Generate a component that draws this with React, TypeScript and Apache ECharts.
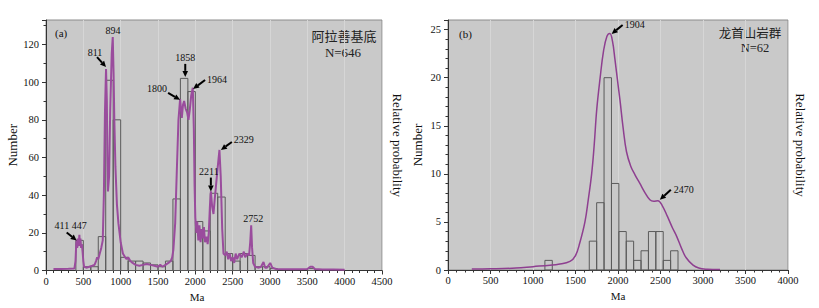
import React, { useEffect, useRef } from "react";
import * as echarts from "echarts";

// ---------- Data: panel (a) 阿拉善基底 ----------
const binWidthA = 100;
const binStartA = [400, 500, 600, 700, 800, 900, 1000, 1100, 1200, 1300, 1400, 1500, 1600, 1700, 1800, 1900, 2000, 2100, 2200, 2300, 2400, 2500, 2600, 2700, 2800, 2900, 3000, 3500];
const binCountA = [16, 2, 2, 18, 101, 80, 7, 5, 5, 4, 3, 2, 5, 38, 102, 95, 26, 21, 41, 39, 9, 5, 9, 8, 2, 2, 1, 1];

const curveA: number[][] = [
  [100, 0.8], [200, 0.8], [300, 0.9], [380, 1], [395, 5], [405, 14], [411, 16], [418, 12], [425, 17], [432, 13], [440, 15], [447, 19], [455, 13], [462, 17], [470, 12], [480, 14], [490, 10], [500, 5], [510, 2], [540, 1.5], [580, 2], [620, 2.5], [650, 3], [670, 5], [685, 7], [700, 6], [720, 9], [740, 12], [760, 16], [775, 40], [790, 85], [804, 107], [815, 90], [822, 60], [830, 42], [845, 50], [860, 85], [880, 115], [894, 124], [905, 105], [915, 80], [930, 55], [950, 35], [970, 25], [1000, 15], [1030, 9], [1060, 7], [1080, 6], [1100, 7], [1130, 5], [1160, 4], [1200, 3], [1250, 2.5], [1300, 3], [1350, 3.5], [1400, 3], [1450, 2.5], [1500, 2], [1530, 3], [1560, 2], [1600, 3], [1640, 4], [1670, 5], [1690, 7], [1706, 11], [1730, 25], [1752, 53], [1774, 80], [1796, 91], [1810, 85], [1819, 81], [1835, 88], [1850, 90], [1870, 86], [1890, 84], [1908, 80], [1925, 85], [1945, 93], [1966, 97], [1980, 75], [1990, 45], [2000, 28], [2015, 20], [2025, 26], [2040, 16], [2055, 24], [2070, 15], [2085, 22], [2100, 17], [2115, 23], [2130, 15], [2150, 18], [2165, 14], [2180, 20], [2195, 34], [2208, 42], [2225, 34], [2243, 30], [2260, 38], [2279, 46], [2300, 55], [2323, 64], [2340, 50], [2360, 22], [2377, 9], [2400, 8], [2420, 10], [2440, 6], [2460, 9], [2480, 5], [2500, 7], [2520, 4], [2540, 9], [2560, 6], [2590, 9], [2620, 7], [2650, 10], [2668, 7], [2700, 9], [2720, 8], [2735, 15], [2748, 24], [2760, 12], [2775, 4], [2800, 2], [2850, 1.5], [2880, 2], [2913, 4.5], [2935, 1.5], [2960, 1.5], [3003, 4], [3030, 1.5], [3080, 0.8], [3200, 0.6], [3350, 0.6], [3500, 0.8], [3540, 2], [3570, 2], [3600, 0.8], [3700, 0.5], [3850, 0.5], [4000, 0.4],
];

const annoLabelsA = ["411 447", "811", "894", "1800", "1858", "1964", "2211", "2329", "2752"];
const annoMaA = [411, 804, 898, 1796, 1865, 1970, 2208, 2342, 2775];
const annoValA = [15.9, 108, 127.5, 90.6, 102.8, 96.4, 41.9, 64, 27.4];

// ---------- Data: panel (b) 龙首山岩群 ----------
const binWidthB = 87;
const binStartB = [1140, 1662, 1749, 1836, 1923, 2010, 2097, 2184, 2271, 2358, 2445, 2532, 2619];
const binCountB = [1, 3, 7, 20, 9, 4, 3, 1, 2, 4, 4, 1, 2];

const curveB: number[][] = [
  [280, 0.1], [500, 0.12], [800, 0.2], [1000, 0.35], [1200, 0.5], [1300, 0.6], [1435, 0.9], [1500, 1.5], [1550, 2.8], [1611, 5], [1650, 7.3], [1690, 10], [1720, 13], [1750, 16.7], [1790, 20], [1830, 22.8], [1870, 24.3], [1904, 24.6], [1935, 23.8], [1964, 21.9], [2000, 19.3], [2023, 17.7], [2060, 14.8], [2100, 12.3], [2150, 10.8], [2200, 9.9], [2257, 9], [2320, 8], [2375, 7.3], [2420, 7.15], [2470, 7.2], [2520, 6.7], [2580, 5.6], [2640, 4.4], [2690, 3.5], [2750, 2.2], [2800, 1.3], [2883, 0.5], [2950, 0.2], [3050, 0.08], [3200, 0.04],
];

const annoLabelsB = ["1904", "2470"];
const annoMaB = [1925, 2492];
const annoValB = [24.55, 7.3];

// ---------- Layout for annotations (pixel offsets from arrow tip) ----------
// [tailDx, tailDy, textDx, textDy, align]  (no arrow if tail is null)
const annoLayoutA: any[] = [
  [-10, -8, -6, -15, "center"],
  [-9, -10, -11, -15, "center"],
  [null, null, 0, 0, "center"],
  [-12, -7, -23, -11, "center"],
  [0, -13, 0, -19, "center"],
  [12, -9, 14, -9, "left"],
  [0, -14, -2, -20, "center"],
  [11, -8, 13, -10, "left"],
  [null, null, 0, 0, "center"],
];
const annoLayoutB: any[] = [
  [11, -9, 13, -9, "left"],
  [11, -10, 14, -10, "left"],
];

const SERIF = "'Liberation Serif', 'Times New Roman', 'DejaVu Serif', serif";
const CJK = "'Noto Sans CJK SC', 'Liberation Serif', serif";
const PURPLE = "#9a4c9d";

function histData(starts: number[], counts: number[], w: number) {
  return starts.map((s, i) => [s, s + w, counts[i]]);
}

function renderHist(params: any, api: any) {
  const p0 = api.coord([api.value(0), api.value(2)]);
  const p1 = api.coord([api.value(1), 0]);
  return {
    type: "rect",
    shape: { x: p0[0], y: p0[1], width: p1[0] - p0[0], height: p1[1] - p0[1] },
    style: { fill: "none", stroke: "#5a5a5a", lineWidth: 1 },
  };
}

function makeAnnoRenderer(labels: string[], layout: any[]) {
  return (params: any, api: any) => {
    const idx = api.value(2);
    const tip = api.coord([api.value(0), api.value(1)]);
    const lay = layout[idx];
    const children: any[] = [];
    if (lay[0] !== null) {
      const tx = tip[0] + lay[0];
      const ty = tip[1] + lay[1];
      const dx = tip[0] - tx;
      const dy = tip[1] - ty;
      const len = Math.sqrt(dx * dx + dy * dy);
      const ux = dx / len;
      const uy = dy / len;
      const hl = 6;
      const hw = 2.8;
      const bx = tip[0] - ux * hl;
      const by = tip[1] - uy * hl;
      children.push({
        type: "line",
        shape: { x1: tx, y1: ty, x2: bx, y2: by },
        style: { stroke: "#000", lineWidth: 2 },
      });
      children.push({
        type: "polygon",
        shape: {
          points: [
            [tip[0], tip[1]],
            [bx - uy * hw, by + ux * hw],
            [bx + uy * hw, by - ux * hw],
          ],
        },
        style: { fill: "#000" },
      });
    }
    children.push({
      type: "text",
      style: {
        x: tip[0] + lay[2],
        y: tip[1] + lay[3],
        text: labels[idx],
        fill: "#111",
        font: `10px ${SERIF}`,
        align: lay[4],
        verticalAlign: "middle",
      },
    });
    return { type: "group", children };
  };
}

export default function App() {
  const ref = useRef<HTMLDivElement>(null);
  useEffect(() => {
    document.body.style.margin = "0";
    const chart = echarts.init(ref.current!, null, { renderer: "svg" });

    const plain = (v: number) => String(v);
    const tickLabel = { fontFamily: SERIF, fontSize: 10.5, color: "#111", formatter: plain };
    const axisLine = { show: true, lineStyle: { color: "#333", width: 1 } };
    const xAxisCommon = (grid: number, max: number, namePad: number[]) => ({
      gridIndex: grid,
      type: "value",
      min: 0,
      max,
      interval: 500,
      name: "Ma",
      nameLocation: "middle",
      nameGap: 18,
      nameTextStyle: { fontFamily: SERIF, fontSize: 11, color: "#111", padding: namePad },
      axisLine,
      axisTick: { show: true, length: 4, lineStyle: { color: "#333" } },
      minorTick: { show: true, splitNumber: 5, length: 2.5, lineStyle: { color: "#333" } },
      axisLabel: { ...tickLabel, margin: 5 },
      splitLine: { show: true, lineStyle: { color: "#d6d6d6", width: 1 } },
    });
    const yLeft = (grid: number, max: number, interval: number, minor: number) => ({
      gridIndex: grid,
      type: "value",
      min: 0,
      max,
      interval,
      name: "Number",
      nameLocation: "middle",
      nameGap: 24,
      nameRotate: 90,
      nameTextStyle: { fontFamily: SERIF, fontSize: 13, color: "#111" },
      axisLine,
      axisTick: { show: true, length: 4, lineStyle: { color: "#333" } },
      minorTick: { show: true, splitNumber: minor, length: 2.5, lineStyle: { color: "#333" } },
      axisLabel: { ...tickLabel, margin: 7, showMaxLabel: false },
      splitLine: { show: false },
    });
    const yRight = (grid: number, max: number, gap: number) => ({
      gridIndex: grid,
      type: "value",
      position: "right",
      min: 0,
      max,
      name: "Relative probability",
      nameLocation: "middle",
      nameGap: gap,
      nameRotate: -90,
      nameTextStyle: { fontFamily: SERIF, fontSize: 13, color: "#111" },
      axisLine: { show: false },
      axisTick: { show: false },
      axisLabel: { show: false },
      splitLine: { show: false },
    });

    chart.setOption({
      animation: false,
      backgroundColor: "#ffffff",
      grid: [
        { left: 46, right: 437, top: 20, bottom: 37.5, show: true, backgroundColor: "#c9c9c9", borderColor: "#8c8c8c", borderWidth: 1 },
        { left: 448, right: 31, top: 20, bottom: 38, show: true, backgroundColor: "#c9c9c9", borderColor: "#8c8c8c", borderWidth: 1 },
      ],
      xAxis: [xAxisCommon(0, 4500, [0, 34, 0, 0]), xAxisCommon(1, 4000, [0, 0, 0, 0])],
      yAxis: [yLeft(0, 133, 20, 2), yRight(0, 133, 9), yLeft(1, 26, 5, 5), yRight(1, 26, 6)],
      graphic: [
        { type: "text", left: 55, top: 27, style: { text: "(a)", font: `11px ${SERIF}`, fill: "#111" } },
        { type: "text", left: 459, top: 28, style: { text: "(b)", font: `11px ${SERIF}`, fill: "#111" } },
        { type: "text", x: 344, y: 35, style: { text: "阿拉善基底", font: `13px ${CJK}`, fill: "#222", align: "center", verticalAlign: "middle" } },
        { type: "text", x: 343, y: 52, style: { text: "N=646", font: `13px ${SERIF}`, fill: "#222", align: "center", verticalAlign: "middle" } },
        { type: "text", x: 750, y: 32, style: { text: "龙首山岩群", font: `12.5px ${CJK}`, fill: "#222", align: "center", verticalAlign: "middle" } },
        { type: "text", x: 755, y: 48, style: { text: "N=62", font: `12.5px ${SERIF}`, fill: "#222", align: "center", verticalAlign: "middle" } },
      ],
      series: [
        {
          type: "custom",
          xAxisIndex: 0,
          yAxisIndex: 0,
          renderItem: renderHist,
          encode: { x: [0, 1], y: 2 },
          data: histData(binStartA, binCountA, binWidthA),
          z: 2,
        },
        {
          type: "line",
          xAxisIndex: 0,
          yAxisIndex: 1,
          data: curveA,
          showSymbol: false,
          lineStyle: { color: PURPLE, width: 2 },
          z: 3,
        },
        {
          type: "custom",
          xAxisIndex: 0,
          yAxisIndex: 0,
          renderItem: makeAnnoRenderer(annoLabelsA, annoLayoutA),
          encode: { x: 0, y: 1 },
          data: annoMaA.map((m, i) => [m, annoValA[i], i]),
          clip: false,
          z: 5,
        },
        {
          type: "custom",
          xAxisIndex: 1,
          yAxisIndex: 2,
          renderItem: renderHist,
          encode: { x: [0, 1], y: 2 },
          data: histData(binStartB, binCountB, binWidthB),
          z: 2,
        },
        {
          type: "line",
          xAxisIndex: 1,
          yAxisIndex: 3,
          data: curveB,
          smooth: 0.4,
          showSymbol: false,
          lineStyle: { color: "#8e3f90", width: 1.5 },
          z: 3,
        },
        {
          type: "custom",
          xAxisIndex: 1,
          yAxisIndex: 2,
          renderItem: makeAnnoRenderer(annoLabelsB, annoLayoutB),
          encode: { x: 0, y: 1 },
          data: annoMaB.map((m, i) => [m, annoValB[i], i]),
          clip: false,
          z: 5,
        },
      ],
    });
    return () => chart.dispose();
  }, []);
  return <div ref={ref} style={{ position: "absolute", left: 0, top: 0, width: 819, height: 308 }} />;
}
